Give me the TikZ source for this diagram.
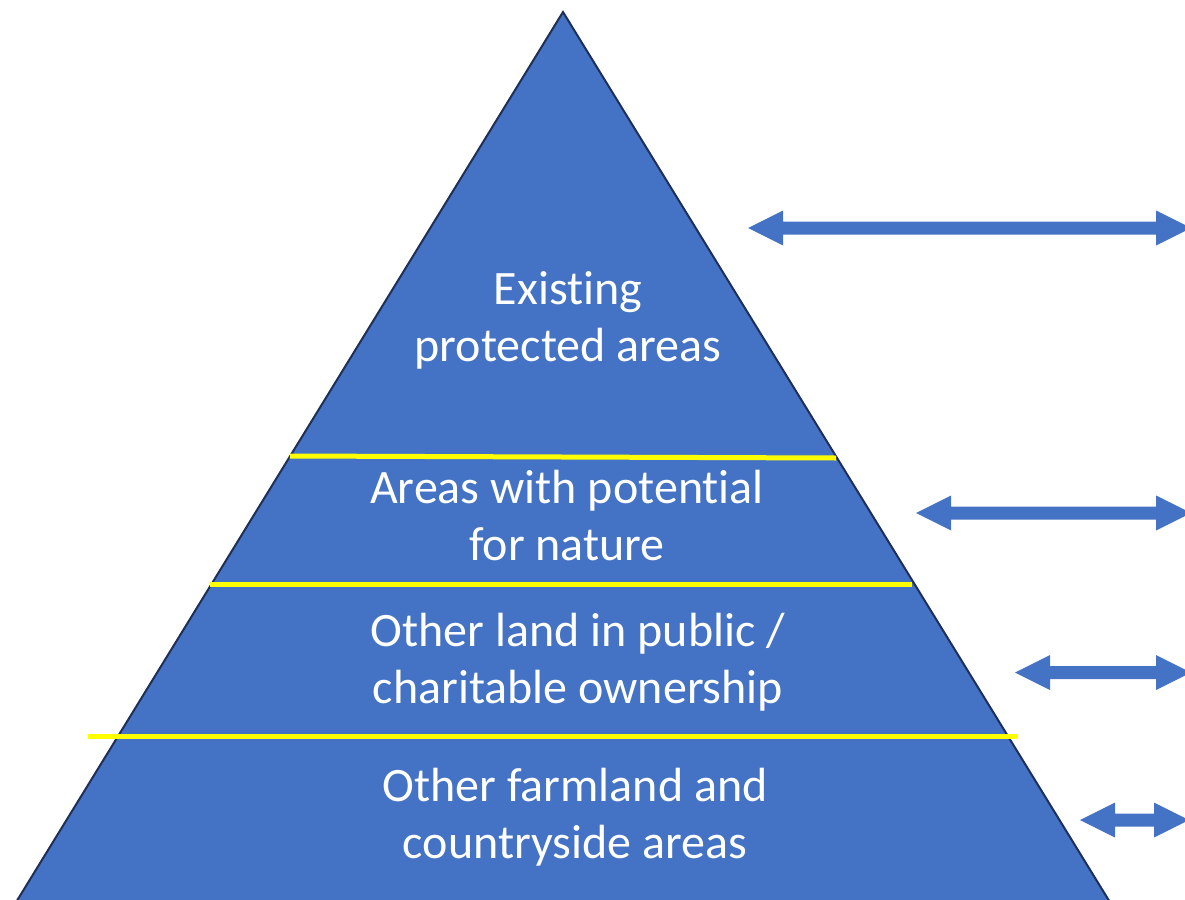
\documentclass[tikz,border=0pt]{standalone}
\usepackage{fontspec}
\setmainfont{Carlito}[Ligatures=NoCommon]
\definecolor{pyrblue}{HTML}{4472C4}
\definecolor{pyredge}{HTML}{1F2F55}
\definecolor{divyellow}{HTML}{FFFF00}
\tikzset{
  layertext/.style={text=white, align=center, anchor=base, inner sep=0pt,
    font=\fontsize{48}{56.5}\selectfont},
  divider/.style={draw=divyellow, line width=5pt},
  blockarrow/.style={fill=pyrblue, draw=none},
}
\newcommand{\dblarrow}[3]{% xl, xr, yc
  \fill[blockarrow] (#1,#3) -- (#1+35,#3-17.5) -- (#1+35,#3-6.5) -- (#2-35,#3-6.5)
    -- (#2-35,#3-17.5) -- (#2,#3) -- (#2-35,#3+17.5) -- (#2-35,#3+6.5)
    -- (#1+35,#3+6.5) -- (#1+35,#3+17.5) -- cycle;}
\begin{document}
\begin{tikzpicture}[x=1pt, y=-1pt]
\useasboundingbox (0,0) rectangle (1185,899);
\clip (0,0) rectangle (1185,899);
% pyramid
\coordinate (apex) at (563,12);
\coordinate (bl) at (14.3,905);
\coordinate (br) at (1111.7,905);
\filldraw[fill=pyrblue, draw=pyredge, line width=2pt, line join=miter] (apex) -- (br) -- (bl) -- cycle;
% dividers
\coordinate (d1l) at (290,456); \coordinate (d1r) at (836,458);
\coordinate (d2l) at (210,584); \coordinate (d2r) at (912,584);
\coordinate (d3l) at (88,736);  \coordinate (d3r) at (1018,736);
\draw[divider] (d1l) -- (d1r);
\draw[divider] (d2l) -- (d2r);
\draw[divider] (d3l) -- (d3r);
% labels (anchor = baseline of last line)
\node[layertext] (t1) at (568,361) {Existing\\protected areas};
\node[layertext] (t2) at (567,560) {Areas with potential\\for nature};
\node[layertext] (t3) at (578,703) {Other land in public /\\charitable ownership};
\node[layertext] (t4) at (575,858) {Other farmland and\\countryside areas};
% arrows
\dblarrow{748}{1191}{228}
\dblarrow{916}{1191}{513}
\dblarrow{1015}{1191}{672.5}
\dblarrow{1080}{1189}{820}
\end{tikzpicture}
\end{document}
